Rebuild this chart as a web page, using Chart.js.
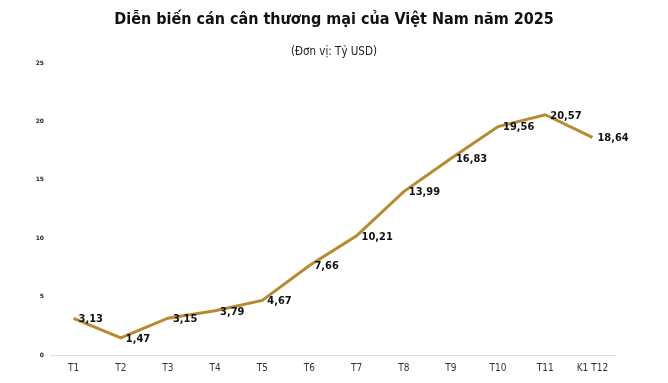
<!DOCTYPE html>
<html>
<head>
<meta charset="utf-8">
<script src="https://cdn.jsdelivr.net/npm/chart.js@4/dist/chart.umd.min.js"></script>
<style>
  html, body { margin: 0; padding: 0; background: #fff; }
  #wrap { width: 668px; height: 383px; }
</style>
</head>
<body>
<div id="wrap"><canvas id="tradeChart" width="668" height="383"></canvas></div>
<script>
const months = ['T1', 'T2', 'T3', 'T4', 'T5', 'T6', 'T7', 'T8', 'T9', 'T10', 'T11', 'K1 T12'];
const balance = [3.13, 1.47, 3.15, 3.79, 4.67, 7.66, 10.21, 13.99, 16.83, 19.56, 20.57, 18.64];
const yTicks = [0, 5, 10, 15, 20, 25];

const condensed = '"DejaVu Sans Condensed", "DejaVu Sans", sans-serif';

// value labels just right of each point, comma as decimal mark
const pointLabels = {
  id: 'pointLabels',
  afterDatasetsDraw(chart) {
    const ctx = chart.ctx;
    const meta = chart.getDatasetMeta(0);
    ctx.save();
    ctx.font = 'bold 11px ' + condensed;
    ctx.fillStyle = '#111';
    ctx.textAlign = 'left';
    ctx.textBaseline = 'middle';
    meta.data.forEach((pt, i) => {
      const text = balance[i].toFixed(2).replace('.', ',');
      ctx.fillText(text, pt.x + 5, pt.y + 1);
    });
    ctx.restore();
  }
};

const ctx = document.getElementById('tradeChart').getContext('2d');
new Chart(ctx, {
  type: 'line',
  data: {
    labels: months,
    datasets: [{
      data: balance,
      borderColor: '#b88a30',
      borderWidth: 3,
      pointRadius: 0,
      tension: 0,
      fill: false
    }]
  },
  options: {
    responsive: false,
    animation: false,
    layout: { padding: { left: 0, right: 0, top: 8, bottom: 2 } },
    plugins: {
      legend: { display: false },
      tooltip: { enabled: false },
      title: {
        display: true,
        text: 'Diễn biến cán cân thương mại của Việt Nam năm 2025',
        color: '#111',
        font: { family: condensed, size: 16, weight: 'bold' },
        padding: { top: 2, bottom: 16 }
      },
      subtitle: {
        display: true,
        text: '(Đơn vị: Tỷ USD)',
        color: '#222',
        font: { family: condensed, size: 11.5 },
        padding: { bottom: 4 }
      }
    },
    scales: {
      x: {
        offset: true,
        grid: { display: false, drawTicks: false },
        border: { display: false },
        ticks: {
          color: '#333',
          font: { family: condensed, size: 10 },
          maxRotation: 0,
          autoSkip: false,
          padding: 7
        }
      },
      y: {
        min: 0,
        max: 25,
        afterBuildTicks: axis => { axis.ticks = yTicks.map(v => ({ value: v })); },
        afterFit: axis => { axis.width = 50; },
        grid: {
          color: c => c.tick.value === 0 ? '#dcdcdc' : 'rgba(0,0,0,0)',
          drawTicks: false
        },
        border: { display: false },
        ticks: {
          color: '#222',
          font: { family: '"DejaVu Sans", sans-serif', size: 6, weight: 'bold' },
          padding: 6
        }
      },
      // empty right margin so the title stays centred on the page
      yRight: {
        position: 'right',
        min: 0,
        max: 25,
        afterFit: axis => { axis.width = 52; },
        grid: { display: false, drawTicks: false },
        border: { display: false },
        ticks: { display: false }
      }
    }
  },
  plugins: [pointLabels]
});
</script>
</body>
</html>
